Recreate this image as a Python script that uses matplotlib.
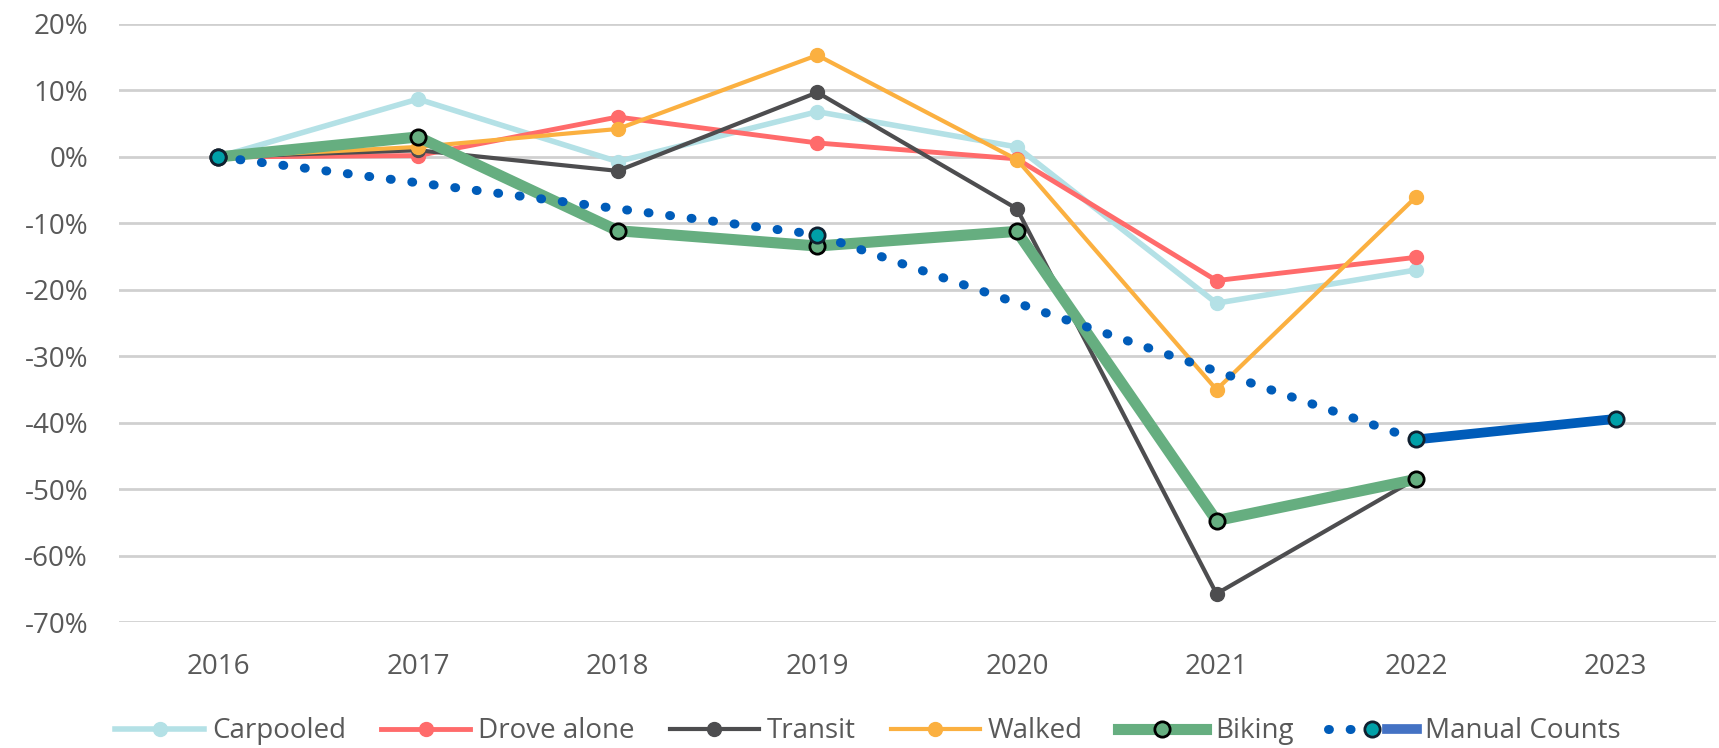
import matplotlib.pyplot as plt
from matplotlib.lines import Line2D
from matplotlib.legend_handler import HandlerTuple
import numpy as np

plt.rcParams['font.family'] = ['Open Sans', 'DejaVu Sans']

years = ['2016', '2017', '2018', '2019', '2020', '2021', '2022', '2023']

# percent change since 2016
carpooled = [0, 8.7, -0.7, 6.8, 1.5, -22.0, -17.0]
drove_alone = [0, 0.2, 6.0, 2.1, -0.3, -18.6, -15.1]
transit = [0, 1.0, -2.1, 9.7, -7.8, -65.7, -48.4]
walked = [0, 1.5, 4.2, 15.3, -0.4, -35.0, -6.0]
biking = [0, 3.0, -11.1, -13.4, -11.2, -54.7, -48.5]

manual_years = ['2016', '2019', '2022']
manual_counts = [0, -11.7, -42.5]
manual_recent_years = ['2022', '2023']
manual_recent = [-42.5, -39.4]

fig = plt.figure(figsize=(17.19, 7.48), dpi=100)
ax = fig.add_axes([0.069, 0.168, 0.929, 0.8])

x = np.arange(len(years))
pos = {y: i for i, y in enumerate(years)}

ax.plot(x[:7], carpooled, color='#b4e1e6', lw=4, marker='o', ms=10, label='Carpooled')
ax.plot(x[:7], drove_alone, color='#ff6b6b', lw=3.5, marker='o', ms=10, label='Drove alone')
ax.plot(x[:7], transit, color='#4d4d4f', lw=3, marker='o', ms=10, label='Transit')
ax.plot(x[:7], walked, color='#fbb040', lw=3, marker='o', ms=10, label='Walked')
ax.plot(x[:7], biking, color='#66ae80', lw=8, marker='o', ms=11,
        mec='black', mew=2, label='Biking')

mx = [pos[y] for y in manual_years]
ax.plot(mx, manual_counts, color='#005cb9', lw=6.5, ls=(0, (0.1, 2.3)),
        dash_capstyle='round', zorder=5)
rx = [pos[y] for y in manual_recent_years]
ax.plot(rx, manual_recent, color='#005cb9', lw=7, solid_capstyle='butt', zorder=5)
ax.plot(mx + rx[1:], manual_counts + manual_recent[1:], ls='none', marker='o',
        ms=11, mfc='#00a0a8', mec='#102030', mew=2, zorder=6)

ax.set_xlim(-0.5, 7.5)
ax.set_ylim(-70, 20)
ax.set_yticks(np.arange(-70, 21, 10))
ax.set_yticklabels([f'{v}%' for v in range(-70, 21, 10)])
ax.set_xticks(x)
ax.set_xticklabels(years)
ax.tick_params(length=0, labelsize=20, colors='#595959', pad=22)
ax.tick_params(axis='y', pad=22)
ax.grid(axis='y', color='#d0d0d0', lw=2)
ax.set_axisbelow(True)
for s in ax.spines.values():
    s.set_visible(False)

handles, labels = ax.get_legend_handles_labels()
dots = Line2D([], [], color='#005cb9', lw=6.5, ls=(0, (0.1, 2.3)), dash_capstyle='round')
mk = Line2D([], [], ls='none', marker='o', ms=11, mfc='#00a0a8', mec='#102030', mew=2)
solid = Line2D([], [], color='#4472c4', lw=7)
handles.append((dots, mk, solid))
labels.append('Manual Counts')
fig.legend(handles, labels, loc='lower center', bbox_to_anchor=(0.505, -0.03), ncol=6,
           frameon=False, fontsize=20, labelcolor='#595959', handlelength=3.2,
           columnspacing=1.25, handletextpad=0.3,
           handler_map={tuple: HandlerTuple(ndivide=None, pad=0)})

fig.savefig('out.png', dpi=100)
